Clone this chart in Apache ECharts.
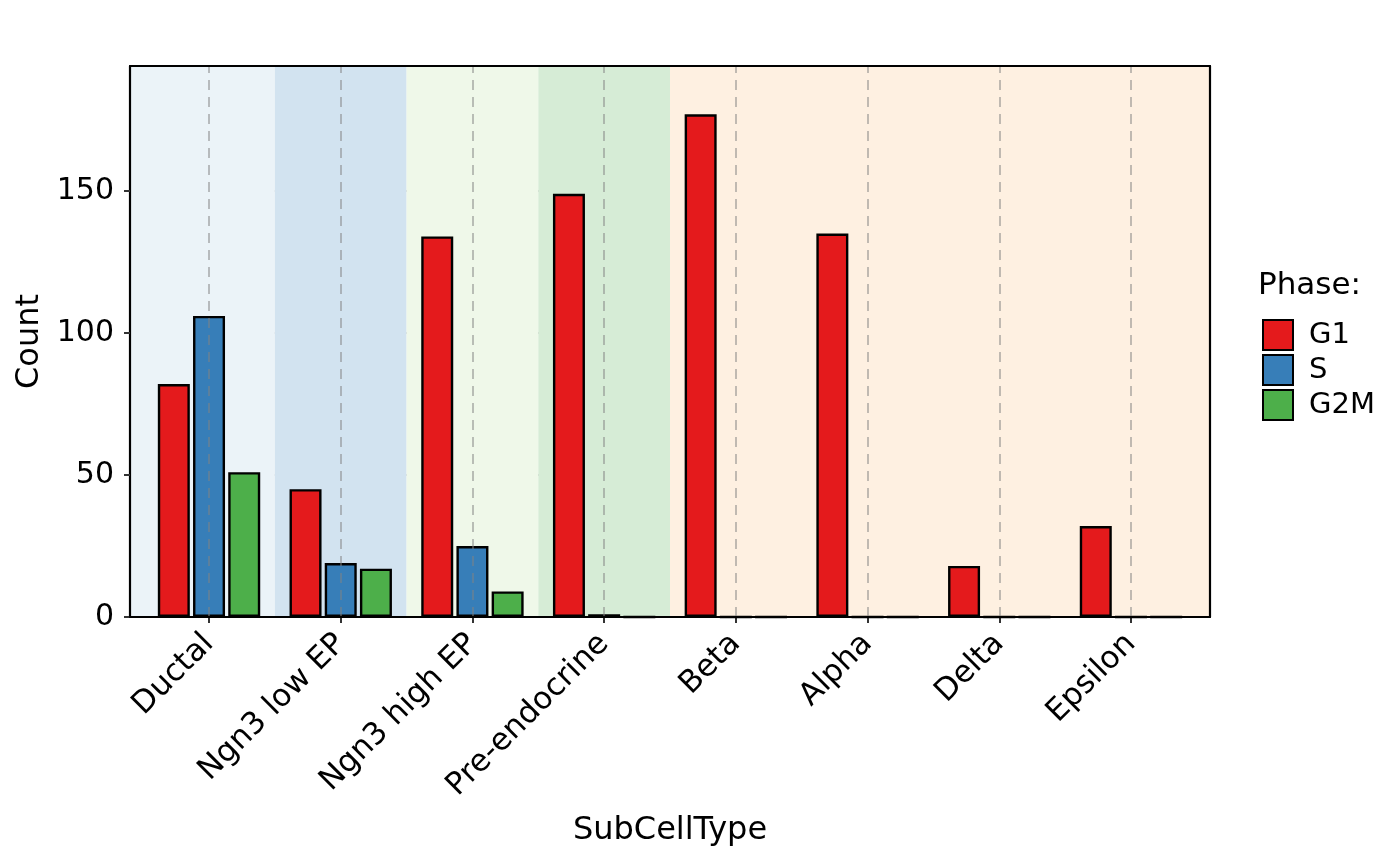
<!DOCTYPE html>
<html><head><meta charset="utf-8">
<script src="https://cdn.jsdelivr.net/npm/echarts@6/dist/echarts.min.js"></script>
<style>html,body{margin:0;padding:0;background:#fff}#c{width:1400px;height:866px}</style>
</head><body><div id="c"></div>
<script>
const categories = ['Ductal','Ngn3 low EP','Ngn3 high EP','Pre-endocrine','Beta','Alpha','Delta','Epsilon'];
const phases = ['G1','S','G2M'];
const g1Values  = [82, 45, 134, 149, 177, 135, 18, 32];
const sValues   = [106, 19, 25, 1, 0, 0, 0, 0];
const g2mValues = [51, 17, 9, 0, 0, 0, 0, 0];
const phaseColors = ['#E41A1C','#377EB8','#4DAF4A'];
const yTicks = [0, 50, 100, 150];
// background groups: first..last category index (0-based)
const bandGroups = [
  {first:0, last:0, color:'#EBF3F8'},
  {first:1, last:1, color:'#D2E3F0'},
  {first:2, last:2, color:'#EFF8E9'},
  {first:3, last:3, color:'#D6ECD6'},
  {first:4, last:7, color:'#FEF0E1'}
];
const yMax = 194;

const n = categories.length;
const lo = 1 - 0.6, hi = n + 0.6;
const unit = 1080 / (hi - lo);
const FONT = 'DejaVu Sans';

const markAreaData = bandGroups.map(b => [
  {xAxis: b.first === 0 ? lo : b.first + 0.5, itemStyle: {color: b.color}},
  {xAxis: b.last === n - 1 ? hi : b.last + 1.5}
]);
const vLines = categories.map((c, i) => ({xAxis: i + 1}));
const gridLineStyle = {color: 'rgba(130,130,130,0.5)', width: 2, type: [10, 7]};

const borderAxis = {lineStyle: {color: '#000', width: 2.2}};
const seriesVals = [g1Values, sValues, g2mValues];

const option = {
  animation: false,
  textStyle: {fontFamily: FONT},
  title: {text: 'Phase:', left: 1253, top: 265, textStyle: {fontFamily: FONT, fontSize: 31, fontWeight: 'normal', color: '#000'}},
  legend: {
    data: phases, orient: 'vertical', left: 1257, top: 314, icon: 'rect',
    itemWidth: 30, itemHeight: 30, itemGap: 3,
    textStyle: {fontFamily: FONT, fontSize: 29, color: '#000', lineHeight: 30, padding: [0, 0, 0, 11]}
  },
  grid: [
    {left: 130, top: 66, width: 1080, height: 551},
    {left: 130 + 0.1 * unit, top: 66, width: n * unit, height: 551}
  ],
  xAxis: [
    {gridIndex: 0, type: 'value', min: lo, max: hi, position: 'bottom', z: 10,
     axisLine: {show: true, onZero: false, ...borderAxis}, axisTick: {show: false}, axisLabel: {show: false}, splitLine: {show: false}},
    {gridIndex: 0, type: 'value', min: lo, max: hi, position: 'top', z: 10,
     axisLine: {show: true, onZero: false, ...borderAxis}, axisTick: {show: false}, axisLabel: {show: false}, splitLine: {show: false}},
    {gridIndex: 1, type: 'category', data: categories, position: 'bottom',
     axisLine: {show: false}, axisTick: {show: true, alignWithLabel: true, length: 6, lineStyle: {color: '#333', width: 2}},
     axisLabel: {rotate: 45, fontSize: 31, color: '#000', margin: 22, fontFamily: FONT, interval: 0},
     splitLine: {show: false},
     name: 'SubCellType', nameLocation: 'middle', nameGap: 198,
     nameTextStyle: {fontSize: 32, color: '#000', fontFamily: FONT}}
  ],
  yAxis: [
    {gridIndex: 0, type: 'value', min: 0, max: yMax, interval: 50, position: 'left', z: 1,
     axisLine: {show: true, ...borderAxis},
     axisTick: {show: true, length: 6, lineStyle: {color: '#333', width: 2}, customValues: yTicks},
     axisLabel: {fontSize: 30, color: '#000', margin: 16, fontFamily: FONT, customValues: yTicks},
     splitLine: {show: true, lineStyle: gridLineStyle},
     name: 'Count', nameLocation: 'middle', nameGap: 83, nameRotate: 90,
     nameTextStyle: {fontSize: 32, color: '#000', fontFamily: FONT}},
    {gridIndex: 0, type: 'value', min: 0, max: yMax, position: 'right', z: 10,
     axisLine: {show: true, ...borderAxis}, axisTick: {show: false}, axisLabel: {show: false}, splitLine: {show: false}},
    {gridIndex: 1, type: 'value', min: 0, max: yMax, show: false}
  ],
  series: [
    {type: 'line', xAxisIndex: 0, yAxisIndex: 0, data: [], z: 0, silent: true,
     markArea: {silent: true, data: markAreaData}},
    {type: 'line', xAxisIndex: 0, yAxisIndex: 0, data: [], z: 1, silent: true,
     markLine: {silent: true, symbol: 'none', label: {show: false}, lineStyle: gridLineStyle, data: vLines}},
    ...phases.map((p, i) => ({
      name: p, type: 'bar', xAxisIndex: 2, yAxisIndex: 2, z: 3,
      data: seriesVals[i], barWidth: 32, barGap: '10%',
      itemStyle: {color: phaseColors[i], borderColor: '#000', borderWidth: 2.4}
    }))
  ]
};
echarts.init(document.getElementById('c'), null, {renderer: 'canvas'}).setOption(option);
</script></body></html>
